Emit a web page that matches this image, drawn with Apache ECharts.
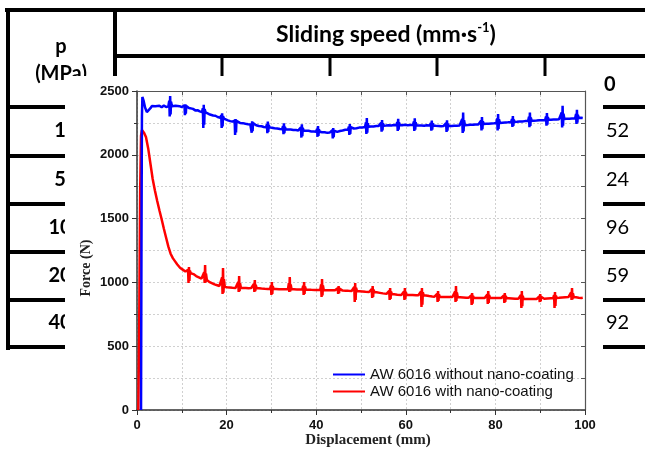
<!DOCTYPE html>
<html>
<head>
<meta charset="utf-8">
<script src="https://cdn.jsdelivr.net/npm/echarts@6/dist/echarts.min.js"></script>
<style>
html,body{margin:0;padding:0;background:#fff;}
#c{width:645px;height:455px;}
</style>
</head>
<body>
<div id="c"></div>
<script>
// ---- data ----
const seriesNames = ['AW 6016 without nano-coating', 'AW 6016 with nano-coating'];
const xTicks = [0, 20, 40, 60, 80, 100];
const yTicks = [0, 500, 1000, 1500, 2000, 2500];
const rowLabels = ['1', '5', '10', '20', '40'];
const rowValues = ['52', '24', '96', '59', '92'];

// blue: AW 6016 without nano-coating  [displacement mm, force N]
const blueData = [
[0.9,0],[1.0,1300],[1.1,2300],[1.2,2453],[1.5,2420],[1.8,2370],[2.2,2335],[2.6,2348],[3,2365],[3.3,2382],
[3.7,2372],[4.1,2380],[4.5,2368],[5,2384],[5.5,2372],[6,2386],[6.5,2374],[6.8,2382],
[7.0,2380],[7.2,2425],[7.3,2300],[7.4,2460],[7.5,2316],[7.6,2416],[7.8,2380],
[8.2,2370],[8.6,2384],[9,2370],[9.5,2381],[10,2374],
[10.4,2372],[10.6,2388],[10.7,2310],[10.8,2395],[10.9,2322],[11.0,2382],[11.2,2370],
[11.6,2366],[12,2356],[12.5,2360],[13,2348],[13.5,2350],[14,2340],
[14.5,2335],[14.7,2365],[14.8,2210],[14.9,2392],[15.0,2235],[15.1,2359],[15.3,2332],
[15.7,2326],[16.1,2318],[16.5,2320],[17,2308],[17.5,2306],[18,2296],
[18.6,2290],[18.8,2310],[18.9,2210],[19.0,2326],[19.1,2222],[19.2,2302],[19.4,2284],
[19.8,2276],[20.3,2270],[20.8,2264],[21.3,2260],
[21.6,2256],[21.8,2268],[21.9,2155],[22.0,2280],[22.1,2175],[22.2,2266],[22.4,2252],
[23,2250],[23.6,2248],[24.2,2243],[24.8,2240],
[25.3,2238],[25.5,2250],[25.6,2173],[25.7,2263],[25.8,2186],[25.9,2248],[26.1,2238],
[26.6,2232],[27.2,2226],[27.8,2224],[28.3,2218],
[28.8,2215],[29.0,2238],[29.1,2170],[29.2,2260],[29.3,2179],[29.4,2233],[29.6,2215],
[30.1,2212],[30.7,2208],[31.3,2206],[31.9,2202],
[32.4,2201],[32.6,2224],[32.7,2161],[32.8,2246],[32.9,2169],[33.0,2219],[33.2,2201],
[33.7,2199],[34.3,2198],[34.9,2194],[35.5,2194],[36,2191],
[36.4,2190],[36.6,2215],[36.7,2135],[36.8,2240],[36.9,2146],[37.0,2210],[37.2,2190],
[37.7,2188],[38.3,2188],[38.9,2183],[39.5,2183],
[40.0,2181],[40.2,2204],[40.3,2141],[40.4,2226],[40.5,2149],[40.6,2199],[40.8,2181],
[41.3,2177],[41.9,2177],[42.5,2172],[43,2174],
[43.4,2174],[43.6,2192],[43.7,2129],[43.8,2209],[43.9,2138],[44.0,2188],[44.2,2176],
[44.7,2180],[45.3,2186],[45.9,2190],[46.5,2196],
[47.1,2198],[47.3,2220],[47.4,2155],[47.5,2240],[47.6,2164],[47.7,2216],[47.9,2203],
[48.4,2206],[49,2208],[49.6,2213],[50.3,2214],
[50.9,2217],[51.1,2253],[51.2,2163],[51.3,2288],[51.4,2174],[51.5,2246],[51.7,2219],
[52.2,2222],[52.8,2222],[53.4,2225],[53.9,2225],
[54.3,2226],[54.5,2250],[54.6,2182],[54.7,2272],[54.8,2191],[54.9,2245],[55.1,2228],
[55.6,2229],[56.2,2231],[56.8,2230],[57.4,2233],
[57.9,2232],[58.1,2257],[58.2,2187],[58.3,2282],[58.4,2196],[58.5,2252],[58.7,2233],
[59.2,2231],[59.8,2235],[60.4,2232],[61,2234],
[61.6,2233],[61.8,2260],[61.9,2187],[62.0,2287],[62.1,2196],[62.2,2254],[62.4,2231],
[62.9,2230],[63.5,2229],[64.1,2227],[64.7,2231],
[65.4,2230],[65.6,2249],[65.7,2189],[65.8,2269],[65.9,2197],[66.0,2245],[66.2,2228],
[66.7,2227],[67.3,2226],[67.9,2223],[68.4,2225],
[68.8,2224],[69.0,2248],[69.1,2180],[69.2,2270],[69.3,2189],[69.4,2243],[69.6,2225],
[70.2,2226],[70.8,2228],[71.4,2228],[72,2230],
[72.4,2230],[72.6,2281],[72.7,2171],[72.8,2331],[72.9,2183],[73.0,2271],[73.2,2232],
[73.8,2233],[74.4,2235],[75,2235],[75.6,2238],[76.2,2237],
[76.6,2239],[76.8,2268],[76.9,2190],[77.0,2295],[77.1,2200],[77.2,2262],[77.4,2241],
[77.9,2243],[78.5,2244],[79.1,2246],[79.7,2247],
[80.2,2249],[80.4,2285],[80.5,2190],[80.6,2320],[80.7,2202],[80.8,2278],[81.0,2250],
[81.6,2252],[82.2,2254],[82.8,2255],[83.2,2256],
[83.5,2257],[83.7,2280],[83.8,2218],[83.9,2303],[84.0,2226],[84.1,2276],[84.3,2258],
[84.8,2259],[85.4,2261],[86,2261],[86.6,2264],
[87.3,2265],[87.5,2298],[87.6,2216],[87.7,2331],[87.8,2226],[87.9,2292],[88.1,2266],
[88.6,2267],[89.2,2268],[89.8,2270],[90.5,2271],
[91.1,2272],[91.3,2300],[91.4,2228],[91.5,2328],[91.6,2237],[91.7,2295],[91.9,2274],
[92.4,2275],[93,2276],[93.6,2277],[94.2,2279],
[94.6,2279],[94.8,2332],[94.9,2215],[95.0,2385],[95.1,2228],[95.2,2322],[95.4,2281],
[95.9,2282],[96.5,2283],[97.1,2285],
[97.8,2286],[98.0,2319],[98.1,2242],[98.2,2352],[98.3,2251],[98.4,2313],[98.6,2288],
[99.1,2290],[99.5,2288]
];

// red: AW 6016 with nano-coating  [displacement mm, force N]
const redData = [
[0.3,0],[0.5,700],[0.7,1700],[0.9,2150],[1.1,2194],[1.6,2170],[2,2140],[2.5,2050],[3,1930],[3.5,1810],
[4,1720],[4.5,1640],[5,1565],[5.5,1495],[6,1420],[6.5,1350],[7,1280],[7.5,1225],[8,1190],[8.5,1165],
[9,1140],[9.6,1115],[10.2,1100],[10.8,1085],
[11.2,1076],[11.4,1098],[11.5,995],[11.6,1121],[11.7,1011],[11.8,1093],[12.0,1072],
[12.6,1065],[13.2,1050],[13.8,1040],[14.4,1030],
[14.8,1026],[15.0,1079],[15.1,995],[15.2,1136],[15.3,1000],[15.4,1068],[15.6,1018],
[16.1,1005],[16.7,995],[17.3,985],[17.9,978],[18.4,972],
[18.8,968],[19.0,1040],[19.1,909],[19.2,1113],[19.3,920],[19.4,1025],[19.6,965],
[20.1,962],[20.7,960],[21.3,958],[22,957],
[22.4,957],[22.6,1003],[22.7,925],[22.8,1050],[22.9,931],[23.0,994],[23.2,956],
[23.7,956],[24.3,957],[24.9,955],[25.5,956],
[25.9,956],[26.1,988],[26.2,925],[26.3,1019],[26.4,931],[26.5,981],[26.7,955],
[27.2,954],[27.8,952],[28.5,950],[29.2,949],
[29.7,949],[29.9,976],[30.0,901],[30.1,1003],[30.2,910],[30.3,970],[30.5,948],
[31,948],[31.7,947],[32.5,947],[33.2,946],
[33.7,946],[33.9,994],[34.0,925],[34.1,1042],[34.2,929],[34.3,984],[34.5,946],
[35,946],[35.7,945],[36.4,944],
[36.9,944],[37.1,974],[37.2,901],[37.3,1003],[37.4,910],[37.5,968],[37.7,943],
[38.2,943],[38.9,942],[39.7,941],[40.4,940],
[40.9,940],[41.1,984],[41.2,886],[41.3,1027],[41.4,897],[41.5,975],[41.7,939],
[42.2,939],[42.9,939],[43.6,938],[44.2,938],
[44.6,938],[44.8,955],[44.9,909],[45.0,972],[45.1,915],[45.2,951],[45.4,937],
[45.9,936],[46.6,935],[47.2,934],[47.9,933],
[48.3,933],[48.5,964],[48.6,846],[48.7,995],[48.8,863],[48.9,958],[49.1,932],
[49.6,931],[50.3,929],[51,927],[51.8,925],
[52.2,924],[52.4,948],[52.5,878],[52.6,972],[52.7,887],[52.8,943],[53.0,923],
[53.5,922],[54.2,918],[54.9,914],[55.7,910],
[56.1,909],[56.3,933],[56.4,862],[56.5,956],[56.6,871],[56.7,928],[56.9,908],
[57.4,907],[58.1,904],[59,902],
[59.4,902],[59.6,929],[59.7,862],[59.8,956],[59.9,870],[60.0,924],[60.2,901],
[60.7,901],[61.5,901],[62.3,900],[62.8,900],
[63.2,899],[63.4,928],[63.5,807],[63.6,956],[63.7,825],[63.8,922],[64.0,898],
[64.5,897],[65.2,893],[65.9,890],[66.4,888],
[66.8,887],[67.0,910],[67.1,846],[67.2,933],[67.3,854],[67.4,905],[67.6,886],
[68.1,886],[68.9,886],[69.7,886],[70.4,886],
[70.8,886],[71.0,929],[71.1,846],[71.2,972],[71.3,854],[71.4,920],[71.6,885],
[72.1,884],[72.8,882],[73.5,880],[74,879],
[74.4,879],[74.6,898],[74.7,823],[74.8,917],[74.9,834],[75.0,894],[75.2,878],
[75.7,878],[76.4,878],[77.1,878],[77.6,878],
[78.0,878],[78.2,905],[78.3,831],[78.4,933],[78.5,840],[78.6,900],[78.8,878],
[79.3,878],[80,878],[80.7,878],[81.3,878],
[81.7,878],[81.9,897],[82.0,839],[82.1,917],[82.2,847],[82.3,893],[82.5,877],
[83,876],[83.7,874],[84.4,872],[85.1,871],
[85.5,871],[85.7,901],[85.8,800],[85.9,933],[86.0,814],[86.1,895],[86.3,870],
[86.8,870],[87.6,870],[88.4,870],[89.2,870],
[89.6,870],[89.8,890],[89.9,846],[90.0,909],[90.1,851],[90.2,886],[90.4,871],
[90.9,872],[91.6,874],[92.4,876],
[92.9,877],[93.1,901],[93.2,800],[93.3,925],[93.4,815],[93.5,896],[93.7,878],
[94.2,879],[94.9,881],[95.6,883],[96.3,885],
[96.7,886],[96.9,921],[97.0,862],[97.1,956],[97.2,867],[97.3,914],[97.5,886],
[98,884],[98.6,880],[99.2,878],[99.5,880]
];

// ---- background table (graphic) ----
const tableFont = 'Lato, "Open Sans", sans-serif';
const lineColor = '#000';
const rowLineYs = [107, 156, 204, 252, 300, 347];
const rowCenterYs = [131, 180, 228, 276, 323];
const headTickXs = [222, 330, 437, 545];

const g = [];
function hline(x1, x2, y, w){ g.push({type:'rect', z:-10, shape:{x:x1, y:y - w/2, width:x2-x1, height:w}, style:{fill:lineColor}}); }
function vline(x, y1, y2, w){ g.push({type:'rect', z:-10, shape:{x:x - w/2, y:y1, width:w, height:y2-y1}, style:{fill:lineColor}}); }

hline(5, 645, 10, 4);
vline(8, 8, 350, 4);
vline(115, 8, 78, 4);
hline(115, 645, 56, 4);
headTickXs.forEach(x => vline(x, 56, 78, 3));
rowLineYs.forEach(y => hline(6, 645, y, 4));

g.push({type:'text', z:-10, x:61, y:47, style:{text:'p', font:'bold 20px ' + tableFont, fill:'#000', align:'center', verticalAlign:'middle'}});
g.push({type:'text', z:-10, x:61, y:74, style:{text:'(MPa)', font:'bold 20px ' + tableFont, fill:'#000', align:'center', verticalAlign:'middle'}});
g.push({type:'text', z:-10, x:386, y:35, style:{
  text:'{a|Sliding speed (mm·s}{b|-1}{a|)}', align:'center', verticalAlign:'middle', fill:'#000',
  rich:{a:{font:'bold 23px ' + tableFont, fill:'#000', lineHeight:28}, b:{font:'bold 13px ' + tableFont, fill:'#000', verticalAlign:'top', lineHeight:28}}
}});
g.push({type:'text', z:-10, x:604, y:85, style:{text:'0', font:'bold 20px ' + tableFont, fill:'#000', align:'left', verticalAlign:'middle'}});
rowLabels.forEach((t, i) => g.push({type:'text', z:-10, x:60, y:rowCenterYs[i], style:{text:t, font:'bold 20px ' + tableFont, fill:'#000', align:'center', verticalAlign:'middle'}}));
rowValues.forEach((t, i) => g.push({type:'text', z:-10, x:606, y:rowCenterYs[i], style:{text:t, font:'20px ' + tableFont, fill:'#000', align:'left', verticalAlign:'middle'}}));

// white chart panel covering part of the table
g.push({type:'rect', z:-5, shape:{x:65, y:76, width:538, height:379}, style:{fill:'#fff'}});

// axis titles
g.push({type:'text', z:10, x:86, y:268, rotation:Math.PI/2, style:{text:'Force (N)', font:'bold 14px "Liberation Serif", serif', fill:'#222', align:'center', verticalAlign:'middle'}});
g.push({type:'text', z:10, x:368, y:440, style:{text:'Displacement (mm)', font:'bold 15px "Liberation Serif", serif', fill:'#222', align:'center', verticalAlign:'middle'}});

const axisColor = '#333';
const gridLine = {show:true, lineStyle:{color:'#d0d0d0', type:[2,2], width:1}};
const labelStyle = {fontFamily:'"Liberation Sans", Arial, sans-serif', fontWeight:'bold', fontSize:13, color:'#111', formatter: v => String(v)};

const option = {
  backgroundColor:'#fff',
  animation:false,
  graphic:g,
  grid:{left:137, top:91, right:60, bottom:45},
  legend:{
    orient:'vertical', left:328, top:362, itemWidth:32, itemHeight:2, itemGap:2, icon:'rect',
    textStyle:{fontFamily:'"Liberation Sans", Arial, sans-serif', fontSize:15, color:'#111'},
    data:seriesNames
  },
  xAxis:[
    {type:'value', min:xTicks[0], max:xTicks[xTicks.length-1], interval:20, position:'bottom',
     axisLine:{onZero:false, lineStyle:{color:axisColor, width:1.5}},
     axisTick:{show:true, inside:false, length:5, lineStyle:{color:axisColor, width:1}},
     minorTick:{show:true, splitNumber:2, length:3, lineStyle:{color:axisColor}},
     axisLabel:Object.assign({}, labelStyle, {margin:9}),
     splitLine:gridLine, minorSplitLine:gridLine},
    {type:'value', min:xTicks[0], max:xTicks[xTicks.length-1], interval:20, position:'top',
     axisLine:{onZero:false, lineStyle:{color:'#555', width:1.2}},
     axisTick:{show:true, inside:true, length:4, lineStyle:{color:'#555'}},
     minorTick:{show:true, splitNumber:2, length:4, lineStyle:{color:'#555'}},
     axisLabel:{show:false}, splitLine:{show:false}}
  ],
  yAxis:[
    {type:'value', min:yTicks[0], max:yTicks[yTicks.length-1], interval:500, position:'left',
     axisLine:{show:true, onZero:false, lineStyle:{color:axisColor, width:1.5}},
     axisTick:{show:true, inside:false, length:5, lineStyle:{color:axisColor}},
     minorTick:{show:true, splitNumber:2, length:3, lineStyle:{color:axisColor}},
     axisLabel:Object.assign({}, labelStyle, {margin:8}),
     splitLine:gridLine, minorSplitLine:gridLine},
    {type:'value', min:yTicks[0], max:yTicks[yTicks.length-1], interval:500, position:'right',
     axisLine:{show:true, onZero:false, lineStyle:{color:'#555', width:1.2}},
     axisTick:{show:true, inside:true, length:4, lineStyle:{color:'#555'}},
     minorTick:{show:true, splitNumber:2, length:4, lineStyle:{color:'#555'}},
     axisLabel:{show:false}, splitLine:{show:false}}
  ],
  series:[
    {name:seriesNames[0], type:'line', data:blueData, showSymbol:false, symbol:'none',
     lineStyle:{color:'#0000ff', width:2.5}, itemStyle:{color:'#0000ff'}, z:3},
    {name:seriesNames[1], type:'line', data:redData, showSymbol:false, symbol:'none',
     lineStyle:{color:'#ff0000', width:2.5}, itemStyle:{color:'#ff0000'}, z:2}
  ]
};

const chart = echarts.init(document.getElementById('c'), null, {renderer:'canvas'});
chart.setOption(option);
</script>
</body>
</html>
